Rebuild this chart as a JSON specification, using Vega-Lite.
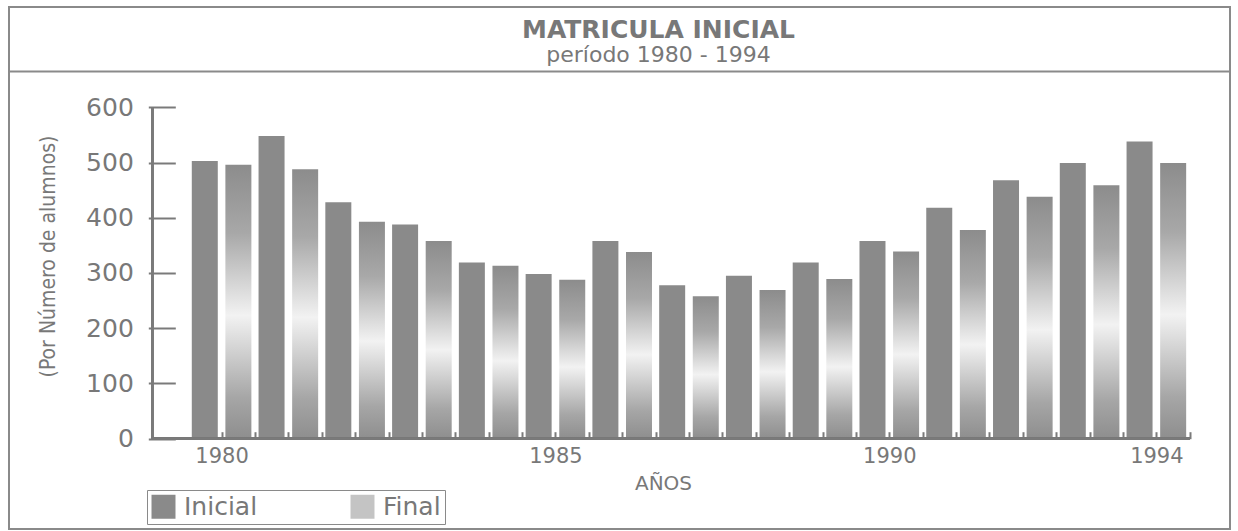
{
  "$schema": "https://vega.github.io/schema/vega-lite/v6.json",
  "width": 1221,
  "height": 522,
  "autosize": {"type": "none"},
  "padding": {"left": 9, "top": 7, "right": 8, "bottom": 2},
  "background": "white",
  "config": {
    "view": {"stroke": "#8a8a8a", "strokeWidth": 2},
    "font": "DejaVu Sans"
  },
  "title": {
    "text": "MATRICULA INICIAL",
    "subtitle": "período 1980 - 1994",
    "anchor": "middle",
    "frame": "group",
    "offset": -59,
    "dx": 39,
    "font": "DejaVu Sans",
    "fontSize": 25,
    "fontWeight": "bold",
    "color": "#787878",
    "subtitleFont": "DejaVu Sans",
    "subtitleFontSize": 22,
    "subtitleColor": "#787878",
    "subtitlePadding": 2
  },
  "data": {
    "values": [
      {"year": 1980, "serie": "Inicial", "value": 503}, {"year": 1980, "serie": "Final", "value": 496},
      {"year": 1981, "serie": "Inicial", "value": 548}, {"year": 1981, "serie": "Final", "value": 488},
      {"year": 1982, "serie": "Inicial", "value": 428}, {"year": 1982, "serie": "Final", "value": 393},
      {"year": 1983, "serie": "Inicial", "value": 388}, {"year": 1983, "serie": "Final", "value": 358},
      {"year": 1984, "serie": "Inicial", "value": 319}, {"year": 1984, "serie": "Final", "value": 313},
      {"year": 1985, "serie": "Inicial", "value": 298}, {"year": 1985, "serie": "Final", "value": 288},
      {"year": 1986, "serie": "Inicial", "value": 358}, {"year": 1986, "serie": "Final", "value": 338},
      {"year": 1987, "serie": "Inicial", "value": 278}, {"year": 1987, "serie": "Final", "value": 258},
      {"year": 1988, "serie": "Inicial", "value": 295}, {"year": 1988, "serie": "Final", "value": 269},
      {"year": 1989, "serie": "Inicial", "value": 319}, {"year": 1989, "serie": "Final", "value": 289},
      {"year": 1990, "serie": "Inicial", "value": 358}, {"year": 1990, "serie": "Final", "value": 339},
      {"year": 1991, "serie": "Inicial", "value": 418}, {"year": 1991, "serie": "Final", "value": 378},
      {"year": 1992, "serie": "Inicial", "value": 468}, {"year": 1992, "serie": "Final", "value": 438},
      {"year": 1993, "serie": "Inicial", "value": 499}, {"year": 1993, "serie": "Final", "value": 459},
      {"year": 1994, "serie": "Inicial", "value": 538}, {"year": 1994, "serie": "Final", "value": 499}
    ]
  },
  "resolve": {"axis": {"x": "independent", "y": "independent"}},
  "layer": [
    {
      "transform": [{"filter": "datum.serie == 'Inicial'"}],
      "mark": {"type": "bar", "width": 26, "xOffset": -16.8},
      "encoding": {
        "x": {
          "field": "year", "type": "quantitative",
          "scale": {"domain": [1976.891, 1995.028], "nice": false, "zero": false},
          "axis": {
            "orient": "bottom",
            "offset": -90.3,
            "domain": false,
            "grid": false,
            "values": [1980, 1980.5, 1981, 1981.5, 1982, 1982.5, 1983, 1983.5, 1984, 1984.5, 1985, 1985.5, 1986, 1986.5, 1987, 1987.5, 1988, 1988.5, 1989, 1989.5, 1990, 1990.5, 1991, 1991.5, 1992, 1992.5, 1993, 1993.5, 1994, 1994.5],
            "labelExpr": "indexof([1980, 1985, 1990, 1994], datum.value) >= 0 ? datum.value : ''",
            "tickSize": -7,
            "tickWidth": 2,
            "tickColor": "#7a7a7a",
            "labelFont": "DejaVu Sans",
            "labelFontSize": 21,
            "labelColor": "#787878",
            "labelPadding": 14,
            "labelOverlap": false,
            "labelFlush": false,
            "title": "AÑOS",
            "titleFont": "DejaVu Sans",
            "titleFontSize": 20,
            "titleFontWeight": "normal",
            "titleColor": "#787878",
            "titleX": 654,
            "titleY": 51,
            "titleBaseline": "alphabetic"
          }
        },
        "y": {
          "field": "value", "type": "quantitative",
          "scale": {"domain": [-163.5, 781.6], "nice": false},
          "axis": {
            "orient": "left",
            "offset": -139.3,
            "domain": false,
            "grid": false,
            "values": [0, 100, 200, 300, 400, 500, 600],
            "tickSize": -27,
            "tickWidth": 2,
            "tickColor": "#7a7a7a",
            "labelFont": "DejaVu Sans",
            "labelFontSize": 25,
            "labelColor": "#787878",
            "labelPadding": 42,
            "labelFlush": false,
            "title": "(Por Número de alumnos)",
            "titleFont": "DejaVu Sans Condensed",
            "titleFontSize": 21,
            "titleFontWeight": "normal",
            "titleColor": "#787878",
            "titleAngle": -90,
            "titleAlign": "center",
            "titleBaseline": "middle",
            "titleX": -100,
            "titleY": 249
          }
        },
        "fill": {
          "field": "serie", "type": "nominal",
          "scale": {
            "domain": ["Inicial", "Final"],
            "range": ["#8a8a8a", "#c4c4c4"]
          },
          "legend": {
            "orient": "none",
            "legendX": 138,
            "legendY": 483,
            "direction": "horizontal",
            "title": null,
            "symbolType": "square",
            "symbolSize": 576,
            "symbolStrokeWidth": 0,
            "labelFont": "DejaVu Sans",
            "labelFontSize": 25,
            "labelColor": "#787878",
            "labelOffset": 8,
            "columnPadding": 92,
            "padding": 4,
            "strokeColor": "#8a8a8a"
          }
        }
      }
    },
    {
      "transform": [{"filter": "datum.serie == 'Final'"}],
      "mark": {
        "type": "bar", "width": 26, "xOffset": 16.8,
        "fill": {"gradient": "linear", "x1": 0, "y1": 0, "x2": 0, "y2": 1, "stops": [{"offset": 0, "color": "#8c8c8c"}, {"offset": 0.25, "color": "#a8a8a8"}, {"offset": 0.55, "color": "#f2f2f2"}, {"offset": 0.85, "color": "#a6a6a6"}, {"offset": 1, "color": "#8e8e8e"}]}
      },
      "encoding": {
        "x": {
          "field": "year", "type": "quantitative",
          "axis": {
            "orient": "top",
            "offset": -64,
            "domain": true,
            "domainColor": "#8a8a8a",
            "domainWidth": 2,
            "ticks": false,
            "labels": false,
            "grid": false,
            "title": null
          }
        },
        "y": {"field": "value", "type": "quantitative", "axis": null}
      }
    },
    {
      "mark": {"type": "rule", "color": "#7a7a7a", "strokeWidth": 2},
      "encoding": {
        "x": {"datum": 1978.96, "type": "quantitative", "axis": null},
        "y": {"datum": 0, "type": "quantitative", "axis": null},
        "y2": {"datum": 600}
      }
    },
    {
      "mark": {"type": "rule", "color": "#7a7a7a", "strokeWidth": 2},
      "encoding": {
        "x": {"datum": 1978.96, "type": "quantitative", "axis": null},
        "x2": {"datum": 1994.5},
        "y": {"datum": 0, "type": "quantitative", "axis": null}
      }
    }
  ]
}
